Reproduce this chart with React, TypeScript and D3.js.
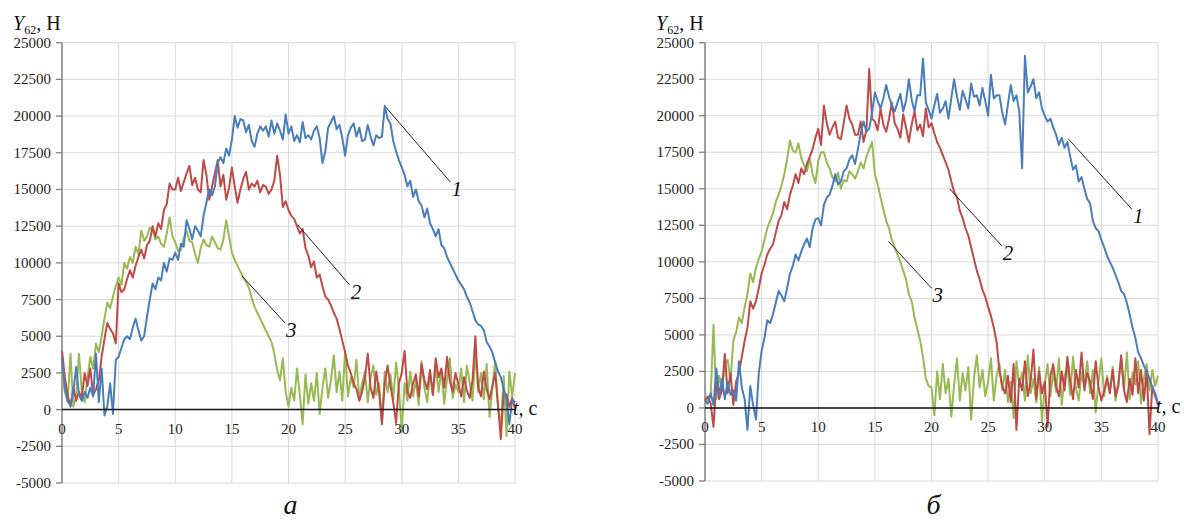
import React from 'react';
import * as d3 from 'd3';

// samples every 0.25 s, t = 0 ... 40 s (161 values per curve)
const STEP = 0.25;

const xTicks = [0, 5, 10, 15, 20, 25, 30, 35, 40];
const yTicks = [-5000, -2500, 0, 2500, 5000, 7500, 10000, 12500, 15000, 17500, 20000, 22500, 25000];

// panel "а"
const a1 = [
  3500, 1500, 600, 300, 1200, 2900, 1000, 600, 1200, 800, 1500, 900, 3800, 500, 2800, -400,
  200, 1800, -300, 3400, 3600, 4200, 4800, 5000, 4800, 5600, 6200, 5400, 4700, 5000, 6300, 7500,
  8600, 8200, 9000, 8800, 10000, 9400, 10300, 10200, 10700, 10200, 11300, 11100, 12900, 12300, 11600, 12500,
  12200, 11800, 13200, 14100, 15000, 14600, 15200, 16800, 17200, 16800, 17800, 17300, 18400, 20000, 19200, 19800,
  19700, 18900, 19400, 18300, 17900, 18800, 19300, 19000, 19300, 18600, 19700, 18800, 19500, 19000, 18400, 20100,
  18800, 19300, 18300, 18700, 18200, 19600, 18500, 18700, 18400, 19000, 19300, 18500, 16800, 17600, 19200, 19600,
  20000, 19100, 19400, 18500, 17300, 18700, 19200, 19500, 18600, 19200, 18300, 18400, 19400, 18600, 18000, 18700,
  18500, 18600, 20700, 19800, 19500, 18300, 17600, 17000, 16500, 16000, 15200, 15600, 14500, 15000, 14200, 13900,
  13100, 13700, 12700, 12300, 11800, 12300, 11200, 11000, 10400, 10000, 9600, 9200, 8800, 8500, 8200, 7700,
  7300, 6700, 6100, 5800, 5700, 5400, 4600, 4300, 3900, 3200, 2600, 2200, 1400, 600, -1000, 700,
  500,
];
const a2 = [
  4000, 2200, 1000, 200, 1500, 600, 1200, 800, 2500, 1600, 2800, 1000, 1400, 2000, 3600, 4800,
  5900, 5500, 5200, 4500, 8600, 8000, 8200, 8900, 9500, 9000, 9800, 10400, 10900, 10300, 11200, 11500,
  12500, 11800, 12700, 12300, 13600, 14000, 15400, 15000, 15000, 15800, 14900, 15500, 16100, 16600, 15300, 15800,
  15000, 14800, 17000, 16000, 14300, 15200, 16100, 17000, 15200, 16000, 14300, 15100, 16500, 15200, 14100, 15000,
  15700, 16200, 15000, 15400, 15200, 15600, 14800, 15300, 15200, 14700, 15000, 15600, 17300, 16000, 13800, 14200,
  13600, 13200, 13000, 12500, 12000, 12300, 11000, 10500, 9700, 10100, 9000, 9200, 8400, 7700, 7500, 7100,
  6600, 6200, 5500, 4700, 3900, 3000, 2500, 1800, 1400, 600, 1200, 2200, 3800, 1500, 800, 2600,
  1200, -1000, 1800, 3000, 1600, 500, -900, 1800, 2500, 4000, 1200, 800, 1800, 2400, 900, 3100,
  2000, 1400, 2700, 1000, 3500, 2200, 2800, 1500, 3600, 1900, 1200, 2500, 1700, 900, 2200, 1300,
  800, 2000, 5000, 1500, 900, 2600, 1400, 700, 1600, 2500, 300, -2000, 1200, 1000, 200, 800,
  100,
];
const a3 = [
  2500, 1200, 500, 3800, 200, 900, 3800, 1200, 500, 2200, 3600, 2800, 4500, 3900, 5000, 6200,
  7300, 6900, 7700, 8400, 9000, 8500, 10000, 9600, 10400, 10000, 11100, 10600, 12200, 11500, 11800, 12400,
  12200, 11600, 11800, 11300, 11100, 12000, 13100, 11800, 11400, 10800, 10900, 11700, 12200, 11500, 11400, 10600,
  10000, 11000, 11600, 11200, 11100, 11800, 11400, 11000, 10900, 11600, 12900, 11800, 10700, 10200, 9800, 9400,
  9000, 8700, 8300, 7600, 7000, 6600, 6200, 5800, 5400, 5000, 4600, 3800, 2700, 2000, 3500, 1200,
  200, 1500, 600, 2800, 1000, -1000, 2400, 400, 1800, 600, 2500, -300, 1500, 2800, 800, 2000,
  3700, 1200, 2600, 600, 4000, 900, 2200, 1500, 3400, 700, 1800, 2600, 500, 2200, 3000, 1000,
  1800, -800, 2600, 1200, 2400, 700, 3200, 1400, -1500, 1800, 600, 2600, 900, 2000, 300, 3300,
  1500, 500, 2400, 1000, 3000, 1200, 2700, 400, 2100, 3500, 800, 1700, 1200, 2800, 500, 3000,
  1800, 600, 4000, 1200, 2500, 700, 3100, -500, 1400, 3300, 200, -1200, 2300, -1800, 2600, 900,
  2500,
];

// panel "б"
const b1 = [
  500, 300, 1000, 200, 2700, 800, 2000, 600, 1800, 900, 1200, 500, 3200, 1400, 600, -1500,
  1500, 200, -800, 2400, 3900, 4800, 6000, 5800, 6400, 7200, 8000, 7700, 7300, 8200, 9200, 9700,
  10500, 10100, 10700, 11200, 11600, 11000, 12300, 12900, 13000, 12500, 13900, 14400, 14600, 15200, 16000, 15300,
  15500, 16200, 16400, 17000, 17300, 16700, 17700, 18800, 19600, 18900, 19100, 20200, 21600, 21000, 20500, 21200,
  22100, 21300, 20700, 20300, 20900, 21500, 20300, 21000, 22500, 21100, 20300, 21400, 21400, 23900, 20900, 20400,
  19800, 20700, 21500, 20200, 20500, 21000, 19800, 21200, 22500, 21300, 20400, 21700, 21100, 20500, 22200, 21300,
  21400, 20700, 21900, 21000, 20000, 22800, 21200, 21400, 21400, 20200, 19400, 20800, 22100, 21000, 21400, 20300,
  16400, 24100, 21600, 22000, 22500, 21200, 21600, 20500, 20000, 19600, 19800, 19200, 18700, 18000, 18500, 17800,
  18200, 17200, 16300, 16600, 15500, 15800, 15000, 14300, 14000, 12800, 12300, 12100, 11500, 11000, 10400, 10000,
  9600, 9100, 8600, 8000, 7800, 7200, 6400, 5500, 4800, 3800, 3400, 2900, 2500, 2000, 1400, 1000,
  300,
];
const b2 = [
  500, 800, 300, -1300, 1800, 600, 1200, 3700, 1000, 2400, 200, 1800, 2400, 3500, 4600, 5500,
  7300, 6800, 7300, 8200, 9200, 9800, 10500, 10900, 11200, 12000, 12800, 13200, 14100, 13600, 14600, 15200,
  16000, 15400, 16400, 16000, 16700, 17200, 17700, 18500, 19100, 18000, 20700, 19500, 18700, 19200, 19600, 18500,
  18400, 19500, 20700, 19800, 19400, 18700, 18700, 19600, 18200, 19000, 23200, 19800, 19600, 19000, 20500, 19400,
  18900, 19800, 20900, 19500, 19100, 18500, 20100, 19200, 18200, 19400, 20300, 19000, 19400, 18600, 20500, 19200,
  19500, 18800, 18200, 17800, 17300, 16800, 16300, 15500, 14800, 14400, 13500, 13000, 12300, 11800, 11000, 10200,
  9400, 8800, 8100, 7600, 6900, 6300, 5500, 4500, 2500, 1500, 1000, 2200, 400, 3000, -1500, 2000,
  1200, 3200, 800, 1800, 4000, 600, 2500, 1000, 1800, -1300, 2200, 3000, 1500, 800, 2500, 1200,
  3500, 1800, 600, 2600, 1400, 3800, 1200, 2400, 1800, 600, 3200, 1400, 500, 1200, 2000, 1000,
  2600, 800, 1500, 3600, 1200, 400, 2000, 900, 3400, 1000, 2600, 500, 2500, -1800, 1500, 800,
  200,
];
const b3 = [
  200, 500, 800, 5700, 600, 2200, 1200, 3000, 3300, 1800, 4600, 5200, 6200, 5800, 6900, 7800,
  9200, 8600, 9600, 10200, 10700, 11500, 12300, 12800, 13300, 14100, 14600, 15200, 16000, 17000, 18300, 17600,
  17500, 18100, 17100, 16600, 16200, 17100, 16000, 15400, 16900, 17500, 17500, 16800, 16400, 15800, 15500, 16100,
  15000, 15600, 15500, 16200, 16000, 15700, 16200, 16800, 16400, 17200, 17700, 18200, 16000, 15300, 14400, 13600,
  12800, 12300, 11500, 11000, 10500, 10000, 9400, 8800, 7800, 7300, 6200, 5400, 4600, 3500, 2000, 1500,
  1400, -500, 2500, 600, 3000, 1000, 2000, -600, 1600, 3400, 500, 2400, 1200, 2800, -800, 2000,
  3600, 1400, 2600, 800, 1800, 3400, 500, 2200, 3000, 1200, 2600, 400, 1800, -700, 3200, 1500,
  2400, 500, 3600, 1000, 2000, 400, 2800, -900, 1600, 3000, 800, 2500, 1100, 3400, 200, 2200,
  2800, 900, 3500, 1400, 500, 2400, 1500, 3200, 1000, 2600, -300, 1800, 3400, 800, 2200, 1200,
  2800, 500, 1800, 3400, 1200, 3800, 600, 2400, 1600, 3200, 300, 2000, 3000, 1200, 2600, 1500,
  2200,
];

// leader lines for the curve numbers: [label, t1, y1, t2, y2]
const notesA = [
  ['1', 28.6, 20600, 34.3, 15500],
  ['2', 20.8, 12600, 25.4, 8500],
  ['3', 15.9, 9100, 19.7, 5900],
];
const notesB = [
  ['1', 32.1, 18400, 37.7, 13600],
  ['2', 21.6, 15000, 26.2, 11100],
  ['3', 16.2, 11400, 20.0, 8200],
];

const COLORS = ['#4a7ebb', '#be4b48', '#98b954'];
const FONT = "'Liberation Serif', 'DejaVu Serif', 'Times New Roman', serif";

const Panel = ({ left, right, top, bottom, series, notes, letter }) => {
  const x = d3.scaleLinear().domain([0, 40]).range([left, right]);
  const y = d3.scaleLinear().domain([-5000, 25000]).range([bottom, top]);
  const line = d3.line<number>().x((_, i) => x(i * STEP)).y(d => y(d));
  // draw green first, blue last
  const order = [2, 1, 0];

  return (
    <g style={{ fontFamily: FONT }}>
      {/* grid */}
      {yTicks.map(v => (
        <line key={'h' + v} x1={left} x2={right} y1={y(v)} y2={y(v)} stroke="#d9d9d9" strokeWidth={1} />
      ))}
      {xTicks.filter(v => v > 0).map(v => (
        <line key={'v' + v} x1={x(v)} x2={x(v)} y1={top} y2={bottom} stroke="#d9d9d9" strokeWidth={1} />
      ))}

      {/* y axis */}
      <line x1={left} x2={left} y1={top} y2={bottom} stroke="#7f7f7f" strokeWidth={1.5} />
      {yTicks.map(v => (
        <g key={'yt' + v}>
          <line x1={left - 6} x2={left} y1={y(v)} y2={y(v)} stroke="#7f7f7f" strokeWidth={1.3} />
          <text x={left - 11} y={y(v) + 5} textAnchor="end" fontSize={15} fill="#222">{v}</text>
        </g>
      ))}

      {/* curves */}
      {order.map(k => (
        <path key={'s' + k} d={line(series[k])} fill="none" stroke={COLORS[k]} strokeWidth={2} strokeLinejoin="round" />
      ))}

      {/* x axis on zero */}
      <line x1={left} x2={right} y1={y(0)} y2={y(0)} stroke="#111" strokeWidth={1.5} />
      {xTicks.map(v => (
        <text key={'xt' + v} x={x(v)} y={y(0) + 24} textAnchor="middle" fontSize={15} fill="#222">{v}</text>
      ))}
      <text x={right - 2} y={y(0) + 5} fontSize={20} fill="#111">
        <tspan fontStyle="italic">t</tspan>, с
      </text>

      {/* axis title */}
      <text x={left - 49} y={top - 13} fontSize={20} fill="#111">
        <tspan fontStyle="italic">Y</tspan>
        <tspan fontSize={12} dy={4}>62</tspan>
        <tspan dy={-4}>, Н</tspan>
      </text>

      {/* curve numbers */}
      {notes.map(([lab, t1, v1, t2, v2]) => (
        <g key={'n' + lab}>
          <line x1={x(t1)} y1={y(v1)} x2={x(t2)} y2={y(v2)} stroke="#222" strokeWidth={1} />
          <text x={x(t2) + 1} y={y(v2) + 14} fontSize={21} fontStyle="italic" fill="#111">{lab}</text>
        </g>
      ))}

      <text x={(left + right) / 2 + 2} y={514} textAnchor="middle" fontSize={28} fontStyle="italic" fill="#111">{letter}</text>
    </g>
  );
};

export default function App() {
  return (
    <svg width={1184} height={520} style={{ position: 'absolute', left: 0, top: 0, background: '#fff' }}>
      <Panel left={62} right={515} top={42.7} bottom={483} series={[a1, a2, a3]} notes={notesA} letter="а" />
      <Panel left={705} right={1158} top={42.7} bottom={481} series={[b1, b2, b3]} notes={notesB} letter="б" />
    </svg>
  );
}
